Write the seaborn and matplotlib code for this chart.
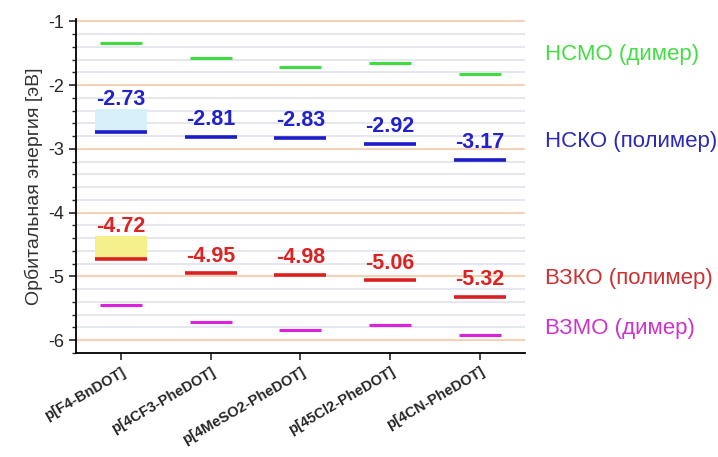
import matplotlib
matplotlib.use("Agg")
import matplotlib.pyplot as plt
import seaborn as sns
import pandas as pd
import numpy as np
from matplotlib.ticker import MultipleLocator

# Compounds and orbital energies (eV)
compounds = ["p[F4-BnDOT]", "p[4CF3-PheDOT]", "p[4MeSO2-PheDOT]",
             "p[45Cl2-PheDOT]", "p[4CN-PheDOT]"]
lumo_dimer = [-1.33, -1.57, -1.72, -1.65, -1.83]
lumo_polymer = [-2.73, -2.81, -2.83, -2.92, -3.17]
homo_polymer = [-4.72, -4.95, -4.98, -5.06, -5.32]
homo_dimer = [-5.45, -5.71, -5.84, -5.76, -5.92]

# Shaded range above the reference compound levels
lumo_band = [-2.38, -2.73]
homo_band = [-4.37, -4.72]

series_names = ["НСМО (димер)", "НСКО (полимер)", "ВЗКО (полимер)", "ВЗМО (димер)"]
line_colors = ["#3fdc3f", "#1c1cc8", "#dc2020", "#dd22dd"]
text_colors = ["#44dd44", "#2a2ab4", "#cc3030", "#cc33cc"]

sns.set_theme(style="ticks")
plt.rcParams["font.family"] = ["Liberation Sans", "DejaVu Sans"]

fig = plt.figure(figsize=(7.18, 4.57), dpi=100)
ax = fig.add_axes([0.106, 0.2276, 0.625, 0.731])

df = pd.DataFrame({
    "compound": compounds * 4,
    "energy": lumo_dimer + lumo_polymer + homo_polymer + homo_dimer,
    "series": np.repeat(series_names, len(compounds)),
})

x_idx = np.arange(len(compounds))

# background horizontal grid: orange at whole eV, grey-blue at 0.2 eV
ax.set_ylim(-6.2, -0.96)
ax.set_xlim(-0.5, 4.5)
for y in np.arange(-6.0, -0.9, 0.2):
    major = abs(y - round(y)) < 1e-6
    ax.axhline(y, color="#f3d2b8" if major else "#dfe3ea",
               lw=1.5 if major else 1.2, zorder=0)

# shaded boxes for the first compound
ax.fill_between([x_idx[0] - 0.29, x_idx[0] + 0.29], lumo_band[0], lumo_band[1],
                color="#d8f0fa", lw=0, zorder=1)
ax.fill_between([x_idx[0] - 0.29, x_idx[0] + 0.29], homo_band[0], homo_band[1],
                color="#f6f08c", lw=0, zorder=1)

# energy levels as horizontal dashes
marker_sizes = {"НСМО (димер)": 30, "НСКО (полимер)": 37.5,
                "ВЗКО (полимер)": 37.5, "ВЗМО (димер)": 30}
marker_lw = {"НСМО (димер)": 2.2, "НСКО (полимер)": 2.6,
             "ВЗКО (полимер)": 2.6, "ВЗМО (димер)": 2.2}
for name, col in zip(series_names, line_colors):
    sub = df[df["series"] == name]
    sns.scatterplot(data=sub, x="compound", y="energy", marker="_",
                    s=marker_sizes[name] ** 2, linewidth=marker_lw[name],
                    color=col, edgecolor=col, ax=ax, zorder=3, legend=False)

# value labels
for i, (lu, ho) in enumerate(zip(lumo_polymer, homo_polymer)):
    off = 0.50 if i == 0 else 0.27
    ax.text(i, lu + off, f"{lu:.2f}", color="#2222cc", fontsize=15.5,
            fontweight="bold", ha="center", va="center", zorder=4)
    ax.text(i, ho + off, f"{ho:.2f}", color="#dd2222", fontsize=15.5,
            fontweight="bold", ha="center", va="center", zorder=4)

# series names at right
label_y = [-1.52, -2.89, -5.03, -5.81]
for name, yv, col in zip(series_names, label_y, text_colors):
    ax.text(1.045, yv, name, transform=ax.get_yaxis_transform(),
            color=col, fontsize=16, ha="left", va="center", clip_on=False)

ax.yaxis.set_major_locator(MultipleLocator(1))
ax.yaxis.set_minor_locator(MultipleLocator(0.2))
ax.set_yticks([-1, -2, -3, -4, -5, -6])
ax.set_yticklabels(["-1", "-2", "-3", "-4", "-5", "-6"], fontsize=13)
ax.tick_params(axis="y", which="major", length=5, width=1.2, direction="out")
ax.tick_params(axis="y", which="minor", length=3, width=1, direction="out")
ax.tick_params(axis="x", length=5, width=1.2, direction="out")
ax.set_xticks(x_idx)
ax.set_xticklabels(compounds, rotation=30, ha="right", rotation_mode="anchor",
                   fontsize=10.5, fontweight="bold")
ax.set_xlabel("")
ax.set_ylabel("Орбитальная энергия [эВ]", fontsize=14, labelpad=4, color="#333333")

for side in ["top", "right"]:
    ax.spines[side].set_visible(False)
ax.spines["left"].set_color("black")
ax.spines["bottom"].set_color("black")
ax.spines["left"].set_linewidth(1.3)
ax.spines["bottom"].set_linewidth(1.3)
ax.set_facecolor("white")

fig.savefig("out.png", dpi=100)
